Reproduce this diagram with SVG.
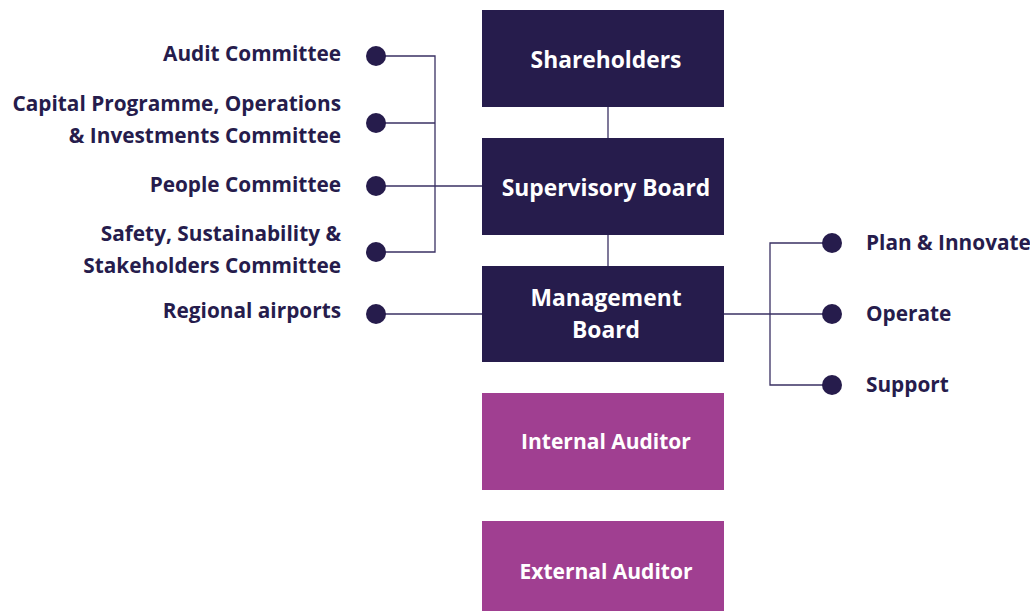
<svg xmlns="http://www.w3.org/2000/svg" width="1030" height="611" viewBox="0 0 1030 611">
<style>
.lbl{font-family:"Open Sans","Noto Sans",sans-serif;font-weight:bold;font-size:20.8px;fill:#261c4c}
.l{text-anchor:end}
.bt{font-family:"Open Sans","Noto Sans",sans-serif;font-weight:bold;font-size:21px;fill:#ffffff;text-anchor:middle}
.big{font-size:22.8px}
.dark{fill:#261c4c}
.purp{fill:#a03f91}
.ln{stroke:#3a3163;stroke-width:1.3;fill:none}
.dot{fill:#261c4c}
</style>
<rect width="1030" height="611" fill="#ffffff"/>
<g id="connectors">
<line class="ln" x1="608" y1="107" x2="608" y2="138"/>
<line class="ln" x1="608" y1="235" x2="608" y2="266"/>
<polyline class="ln" points="376,56 435,56 435,252 376,252"/>
<line class="ln" x1="376" y1="123" x2="435" y2="123"/>
<line class="ln" x1="376" y1="186" x2="482" y2="186"/>
<line class="ln" x1="376" y1="314" x2="482" y2="314"/>
<line class="ln" x1="724" y1="314" x2="832" y2="314"/>
<polyline class="ln" points="832,243 770,243 770,385 832,385"/>
</g>
<g id="shareholders"><rect class="dark" x="482" y="10" width="242" height="97"/><text class="bt big" x="606" y="68">Shareholders</text></g>
<g id="supervisory-board"><rect class="dark" x="482" y="138" width="242" height="97"/><text class="bt big" x="606" y="196">Supervisory Board</text></g>
<g id="management-board"><rect class="dark" x="482" y="266" width="242" height="96"/><text class="bt big" x="606" y="306">Management</text><text class="bt big" x="606" y="338">Board</text></g>
<g id="internal-auditor"><rect class="purp" x="482" y="393" width="242" height="97"/><text class="bt" x="606" y="449">Internal Auditor</text></g>
<g id="external-auditor"><rect class="purp" x="482" y="521" width="242" height="90"/><text class="bt" x="606" y="579">External Auditor</text></g>
<g id="audit-committee"><circle class="dot" cx="376" cy="56" r="10"/><text class="lbl l" x="341" y="61">Audit Committee</text></g>
<g id="capital-committee"><circle class="dot" cx="376" cy="123" r="10"/><text class="lbl l" x="341" y="111">Capital Programme, Operations</text><text class="lbl l" x="341" y="143">&amp; Investments Committee</text></g>
<g id="people-committee"><circle class="dot" cx="376" cy="186" r="10"/><text class="lbl l" x="341" y="192">People Committee</text></g>
<g id="safety-committee"><circle class="dot" cx="376" cy="252" r="10"/><text class="lbl l" x="341" y="241">Safety, Sustainability &amp;</text><text class="lbl l" x="341" y="273">Stakeholders Committee</text></g>
<g id="regional-airports"><circle class="dot" cx="376" cy="314" r="10"/><text class="lbl l" x="341" y="318">Regional airports</text></g>
<g id="plan-innovate"><circle class="dot" cx="832" cy="243" r="10"/><text class="lbl" x="866" y="250">Plan &amp; Innovate</text></g>
<g id="operate"><circle class="dot" cx="832" cy="314" r="10"/><text class="lbl" x="866" y="321">Operate</text></g>
<g id="support"><circle class="dot" cx="832" cy="385" r="10"/><text class="lbl" x="866" y="392">Support</text></g>
</svg>
